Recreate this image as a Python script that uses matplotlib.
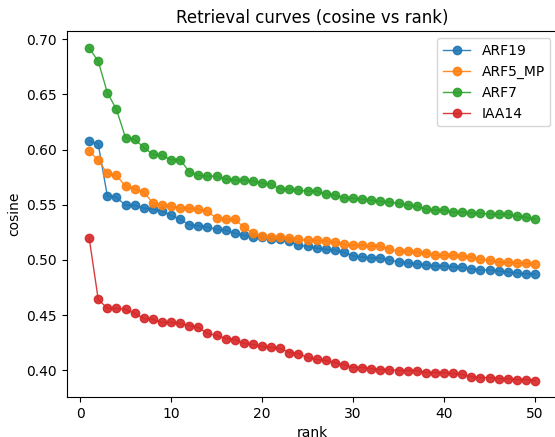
import matplotlib
matplotlib.use('Agg')
import matplotlib.pyplot as plt

rank = list(range(1, 51))

arf19 = [0.6077, 0.6050, 0.5580, 0.5568, 0.5495, 0.5495, 0.5468, 0.5459, 0.5440, 0.5404,
         0.5368, 0.5317, 0.5308, 0.5296, 0.5277, 0.5268, 0.5241, 0.5223, 0.5205, 0.5205,
         0.5187, 0.5187, 0.5168, 0.5132, 0.5123, 0.5105, 0.5096, 0.5087, 0.5068, 0.5035,
         0.5026, 0.5017, 0.5017, 0.4999, 0.4981, 0.4972, 0.4962, 0.4953, 0.4944, 0.4944,
         0.4935, 0.4935, 0.4917, 0.4908, 0.4908, 0.4899, 0.4890, 0.4881, 0.4872, 0.4872]

arf5_mp = [0.5986, 0.5904, 0.5783, 0.5765, 0.5668, 0.5641, 0.5613, 0.5517, 0.5495, 0.5486,
           0.5468, 0.5468, 0.5459, 0.5440, 0.5377, 0.5368, 0.5368, 0.5296, 0.5241, 0.5214,
           0.5205, 0.5205, 0.5196, 0.5187, 0.5177, 0.5177, 0.5168, 0.5159, 0.5141, 0.5132,
           0.5132, 0.5123, 0.5123, 0.5096, 0.5078, 0.5078, 0.5068, 0.5059, 0.5041, 0.5041,
           0.5041, 0.5032, 0.5023, 0.5005, 0.4996, 0.4978, 0.4978, 0.4969, 0.4969, 0.4960]

arf7 = [0.6921, 0.6800, 0.6516, 0.6364, 0.6107, 0.6092, 0.6019, 0.5956, 0.5946, 0.5907,
        0.5907, 0.5800, 0.5765, 0.5759, 0.5759, 0.5731, 0.5722, 0.5722, 0.5713, 0.5695,
        0.5686, 0.5641, 0.5641, 0.5632, 0.5622, 0.5622, 0.5595, 0.5586, 0.5559, 0.5559,
        0.5550, 0.5540, 0.5531, 0.5523, 0.5513, 0.5495, 0.5486, 0.5459, 0.5450, 0.5450,
        0.5432, 0.5432, 0.5423, 0.5423, 0.5414, 0.5414, 0.5414, 0.5395, 0.5386, 0.5368]

iaa14 = [0.5202, 0.4642, 0.4560, 0.4560, 0.4551, 0.4514, 0.4469, 0.4460, 0.4433, 0.4433,
         0.4424, 0.4405, 0.4387, 0.4333, 0.4315, 0.4287, 0.4278, 0.4242, 0.4233, 0.4215,
         0.4206, 0.4197, 0.4160, 0.4151, 0.4115, 0.4097, 0.4088, 0.4069, 0.4051, 0.4024,
         0.4024, 0.4015, 0.4006, 0.4006, 0.3997, 0.3997, 0.3997, 0.3979, 0.3979, 0.3979,
         0.3970, 0.3961, 0.3942, 0.3933, 0.3933, 0.3924, 0.3924, 0.3915, 0.3915, 0.3906]

fig = plt.figure(figsize=(5.55, 4.37), dpi=100)
ax = fig.add_axes([0.1204, 0.0911, 0.8838, 0.8373])

for vals, name in [(arf19, 'ARF19'), (arf5_mp, 'ARF5_MP'), (arf7, 'ARF7'), (iaa14, 'IAA14')]:
    ax.plot(rank, vals, marker='o', linewidth=1, markersize=6, alpha=0.9, label=name)

ax.set_title('Retrieval curves (cosine vs rank)')
ax.set_xlabel('rank')
ax.set_ylabel('cosine')
ax.legend(loc='upper right')

fig.savefig('out.png', dpi=100)
